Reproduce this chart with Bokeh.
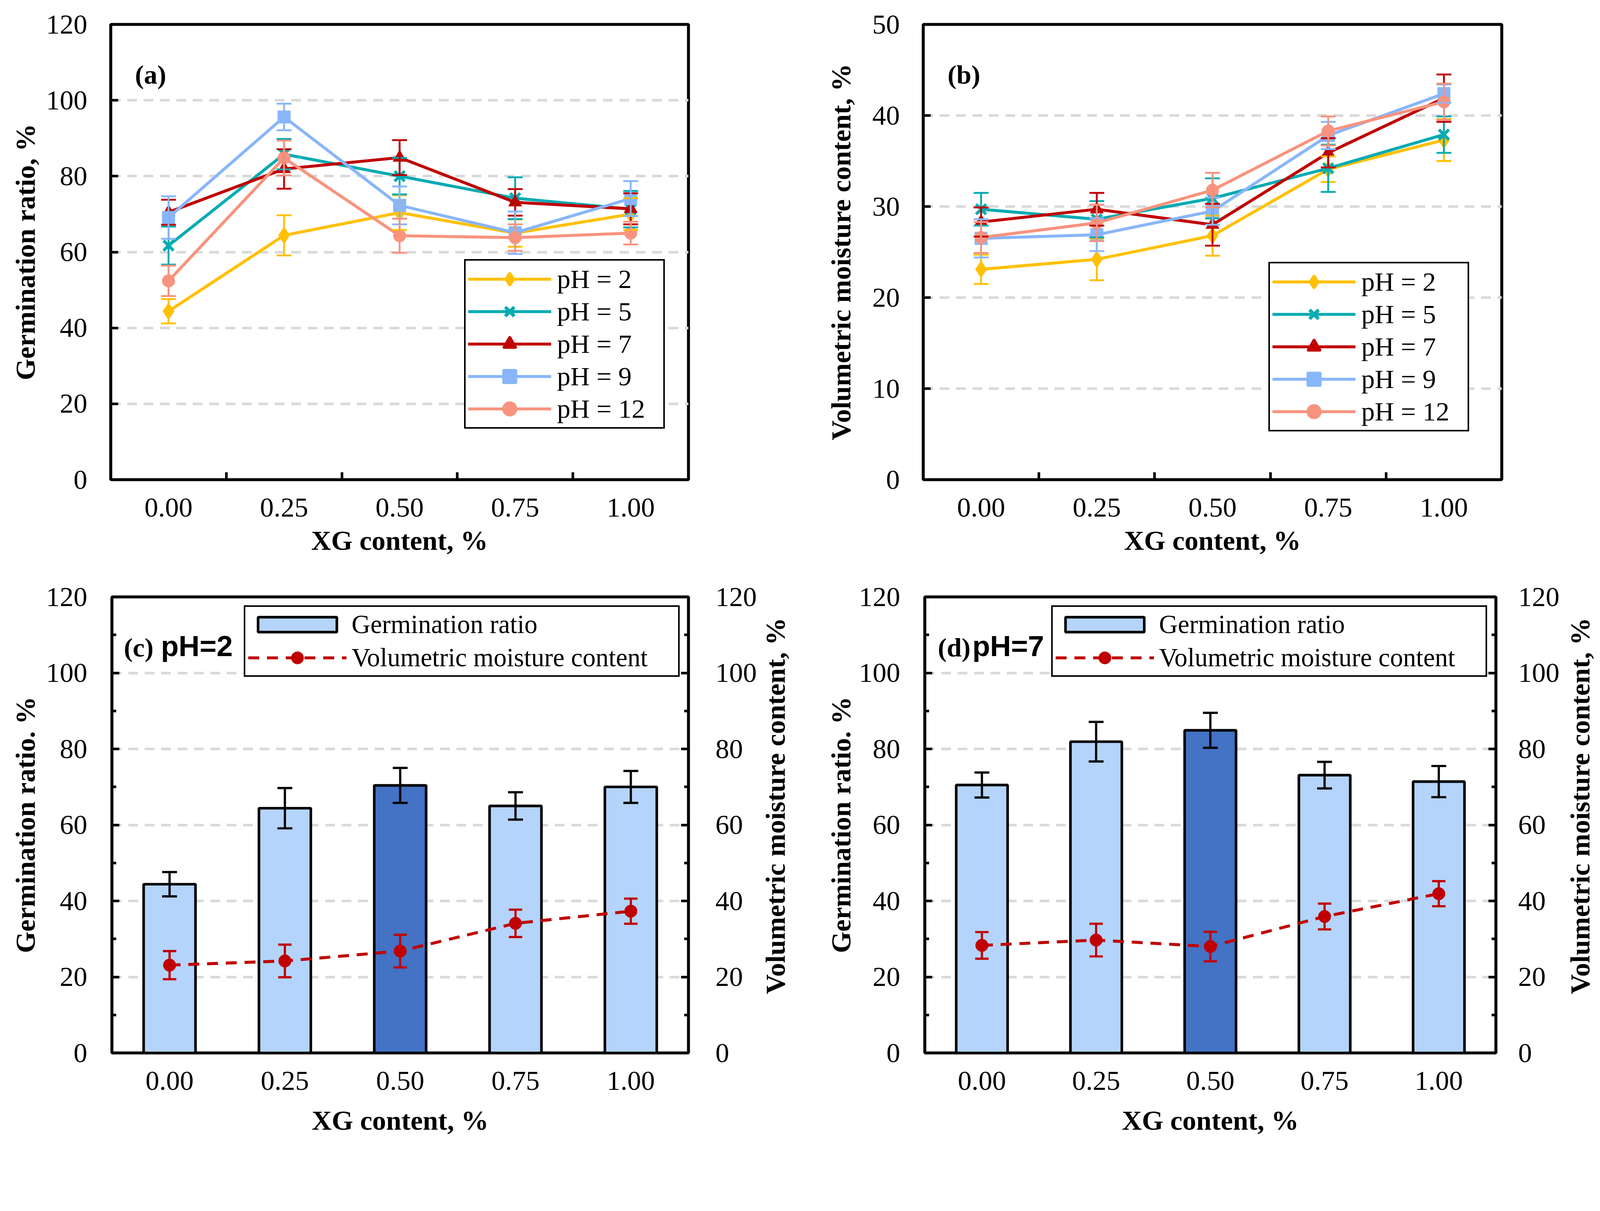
import math
from bokeh.plotting import figure
from bokeh.models import (Range1d, FixedTicker, LinearAxis, Whisker, TeeHead,
                          ColumnDataSource, Label, Legend, LegendItem)
from bokeh.layouts import column, row
from bokeh.embed import file_html
from bokeh.resources import INLINE

# ---------------- data ----------------
xg_labels = ["0.00", "0.25", "0.50", "0.75", "1.00"]
ph_names = ["pH = 2", "pH = 5", "pH = 7", "pH = 9", "pH = 12"]

# germination ratio, % (panel a) and standard deviations
germ_ph2 = [44.4, 64.4, 70.4, 65.0, 70.0]
germ_ph5 = [61.7, 85.8, 80.0, 74.2, 71.3]
germ_ph7 = [70.5, 81.9, 84.9, 73.1, 71.4]
germ_ph9 = [69.1, 95.6, 72.3, 65.1, 74.1]
germ_ph12 = [52.4, 84.8, 64.3, 63.8, 65.0]
germ_err_ph2 = [3.2, 5.3, 4.6, 3.6, 4.2]
germ_err_ph5 = [5.0, 4.0, 4.8, 5.5, 4.8]
germ_err_ph7 = [3.3, 5.2, 4.6, 3.5, 4.1]
germ_err_ph9 = [5.6, 3.5, 5.0, 5.6, 4.6]
germ_err_ph12 = [4.0, 4.6, 4.5, 3.5, 3.0]

# volumetric moisture content, % (panel b) and standard deviations
vmc_ph2 = [23.1, 24.2, 26.8, 34.1, 37.3]
vmc_ph5 = [29.7, 28.6, 30.9, 34.2, 37.9]
vmc_ph7 = [28.3, 29.7, 28.0, 35.9, 41.9]
vmc_ph9 = [26.5, 26.9, 29.5, 37.8, 42.4]
vmc_ph12 = [26.6, 28.2, 31.8, 38.3, 41.5]
vmc_err_ph2 = [1.6, 2.3, 2.2, 1.4, 2.3]
vmc_err_ph5 = [1.8, 2.0, 2.2, 2.6, 2.0]
vmc_err_ph7 = [1.6, 1.8, 2.3, 1.6, 2.6]
vmc_err_ph9 = [2.1, 1.8, 1.5, 1.5, 1.0]
vmc_err_ph12 = [1.7, 2.0, 1.9, 1.6, 2.0]

# error bars of the moisture content shown in panels c and d
vmc_err_ph2_c = [3.7, 4.3, 4.3, 3.6, 3.3]
vmc_err_ph7_d = [3.5, 4.3, 3.9, 3.4, 3.3]

highlight_label = "0.50"

# ---------------- style ----------------
S = 1 / 1.05          # reference pixels -> css pixels
NAN = float("nan")


def px(v):
    return v * S


def ipx(v):
    return int(round(v * S))


def fs(v):
    return "%.1fpx" % (v * S)


SERIF = "Liberation Serif"
SANS = "Liberation Sans"
COLORS = ["#FFC000", "#03ABB2", "#C00000", "#88B6FA", "#F8937E"]
MARKERS = ["diamond", "x", "triangle", "square", "circle"]
MSIZE = [46, 38, 36, 34, 34]
BAR_LIGHT = "#B4D4FB"
BAR_DARK = "#4472C4"
RED = "#C00000"
GRID = "#D9D9D9"
TICK_FS = 74
LABEL_FS = 74

xs = list(range(len(xg_labels)))
overrides = {i: lab for i, lab in enumerate(xg_labels)}


def make_fig(w, h, y_end, left, right, top, bottom):
    p = figure(width=w, height=h, x_range=Range1d(-0.5, len(xs) - 0.5),
               y_range=Range1d(0, y_end), output_backend="svg",
               toolbar_location=None, min_border_left=left,
               min_border_right=right, min_border_top=top,
               min_border_bottom=bottom)
    p.background_fill_color = "white"
    p.border_fill_color = "white"
    p.outline_line_color = "black"
    p.outline_line_width = px(8)
    p.outline_line_alpha = 1.0
    p.xgrid.grid_line_color = None
    p.ygrid.grid_line_color = GRID
    p.ygrid.grid_line_width = px(7)
    p.ygrid.grid_line_dash = "25 17"
    return p


def style_axis(ax, label, lab_standoff, tick_standoff):
    ax.axis_label = label
    ax.axis_label_text_font = SERIF
    ax.axis_label_text_font_size = fs(LABEL_FS)
    ax.axis_label_text_font_style = "bold"
    ax.axis_label_text_color = "black"
    ax.axis_label_standoff = ipx(lab_standoff)
    ax.major_label_text_font = SERIF
    ax.major_label_text_font_size = fs(TICK_FS)
    ax.major_label_text_color = "black"
    ax.major_label_standoff = ipx(tick_standoff)
    ax.axis_line_color = None
    ax.major_tick_in = ipx(20)
    ax.major_tick_out = 0
    ax.major_tick_line_width = px(7)
    ax.major_tick_line_color = "black"
    ax.minor_tick_in = ipx(12)
    ax.minor_tick_out = 0
    ax.minor_tick_line_width = px(7)
    ax.minor_tick_line_color = "black"


def add_err(p, y, err, color, head, width, range_name=None):
    src = ColumnDataSource(dict(x=xs,
                                upper=[a + b for a, b in zip(y, err)],
                                lower=[a - b for a, b in zip(y, err)]))
    wk = Whisker(source=src, base="x", upper="upper", lower="lower",
                 dimension="height", line_color=color, line_width=px(width),
                 level="annotation",
                 upper_head=TeeHead(size=px(head), line_color=color, line_width=px(width)),
                 lower_head=TeeHead(size=px(head), line_color=color, line_width=px(width)))
    if range_name:
        wk.y_range_name = range_name
    p.add_layout(wk)


def style_legend(lg, size, gw, gh, standoff, lw, pad, spacing):
    lg.label_text_font = SERIF
    lg.label_text_font_size = fs(size)
    lg.label_text_color = "black"
    lg.border_line_color = "black"
    lg.border_line_alpha = 1.0
    lg.border_line_width = px(5)
    lg.background_fill_color = "white"
    lg.background_fill_alpha = 1.0
    lg.padding = ipx(pad)
    lg.spacing = ipx(spacing)
    lg.margin = 0
    lg.glyph_width = ipx(gw)
    lg.glyph_height = ipx(gh)
    lg.label_standoff = ipx(standoff)
    lg.label_width = ipx(lw)


def line_panel(p, series, errs, y_end, tag, ylab, ytick_step, legend_loc,
               left_lab_standoff):
    xa = p.xaxis[0]
    xa.ticker = FixedTicker(ticks=xs, minor_ticks=[i + 0.5 for i in xs[:-1]])
    xa.major_label_overrides = overrides
    style_axis(xa, "XG content, %", 20, 50)
    xa.major_tick_line_color = None
    xa.minor_tick_in = ipx(20)
    ya = p.yaxis[0]
    ticks = list(range(0, y_end + 1, ytick_step))
    ya.ticker = FixedTicker(ticks=ticks, minor_ticks=[])
    style_axis(ya, ylab, left_lab_standoff, 63)
    p.ygrid.ticker = FixedTicker(ticks=ticks[1:-1])
    items = []
    for k in range(len(series)):
        add_err(p, series[k], errs[k], COLORS[k], 40, 5)
    for k in range(len(series)):
        lr = p.line(xs, series[k], line_color=COLORS[k], line_width=px(8))
        if MARKERS[k] == "x":
            p.scatter(xs, series[k], marker="x", size=px(MSIZE[k]),
                      line_color=COLORS[k], line_width=px(8))
            proxy = p.scatter(x=[NAN], y=[NAN], marker="x", size=px(MSIZE[k]),
                              line_color=COLORS[k], line_width=px(9))
        else:
            p.scatter(xs, series[k], marker=MARKERS[k], size=px(MSIZE[k]),
                      fill_color=COLORS[k], line_color=COLORS[k], line_width=1)
            # legend-only marker: legend markers are sized from the glyph
            # box, a thicker outline brings them to the reference size
            proxy = p.scatter(x=[NAN], y=[NAN], marker=MARKERS[k],
                              size=px(MSIZE[k]), fill_color=COLORS[k],
                              line_color=COLORS[k], line_width=px(6))
        items.append(LegendItem(label=ph_names[k], renderers=[lr, proxy]))
    lg = Legend(items=items, location=(ipx(legend_loc[0]), ipx(legend_loc[1])))
    style_legend(lg, 72, 224, 86, 16, 279, 6, 1)
    p.add_layout(lg)
    p.add_layout(Label(x=-0.29, y=y_end * 0.89, text=tag, text_font=SERIF,
                       text_font_style="bold", text_font_size=fs(72),
                       text_color="black", text_baseline="alphabetic"))
    return p


def bar_panel(p, germ, germ_err, vmc, vmc_err, tag, tag2, tag_x, tag2_x,
              left_lab_standoff, right_tick_standoff):
    xa = p.xaxis[0]
    xa.ticker = FixedTicker(ticks=xs, minor_ticks=[])
    xa.major_label_overrides = overrides
    style_axis(xa, "XG content, %", 38, 50)
    xa.major_tick_line_color = None
    ticks = list(range(0, 121, 20))
    minors = list(range(10, 120, 20))
    ya = p.yaxis[0]
    ya.ticker = FixedTicker(ticks=ticks, minor_ticks=minors)
    style_axis(ya, "Germination ratio. %", left_lab_standoff, 66)
    p.ygrid.ticker = FixedTicker(ticks=ticks[1:-1])
    p.extra_y_ranges = {"vmc": Range1d(0, 120)}
    ra = LinearAxis(y_range_name="vmc",
                    ticker=FixedTicker(ticks=ticks, minor_ticks=minors))
    style_axis(ra, "", 0, right_tick_standoff)
    ra.axis_label = None
    p.add_layout(ra, "right")

    bar_colors = [BAR_DARK if lab == highlight_label else BAR_LIGHT
                  for lab in xg_labels]
    src = ColumnDataSource(dict(x=xs, top=germ, color=bar_colors))
    br = p.vbar(x="x", top="top", width=0.45, source=src, fill_color="color",
                line_color="black", line_width=px(7))
    add_err(p, germ, germ_err, "black", 40, 6)
    add_err(p, vmc, vmc_err, RED, 36, 6, "vmc")
    lr = p.line(xs, vmc, line_color=RED, line_width=px(8), line_dash="28 20",
                y_range_name="vmc")
    p.scatter(xs, vmc, marker="circle", size=px(34), fill_color=RED,
              line_color=RED, y_range_name="vmc")
    proxy = p.scatter(x=[NAN], y=[NAN], marker="circle", size=px(20),
                      fill_color=RED, line_color=RED, line_width=px(14),
                      y_range_name="vmc")
    lg = Legend(items=[LegendItem(label="Germination ratio", renderers=[br], index=0),
                       LegendItem(label="Volumetric moisture content",
                                  renderers=[lr, proxy])],
                location="top_right")
    style_legend(lg, 70, 265, 50, 14, 870, 7, 9)
    lg.margin = ipx(23)
    p.add_layout(lg)
    p.add_layout(Label(x=tag_x, y=106.7, text=tag, text_font=SERIF,
                       text_font_style="bold", text_font_size=fs(72),
                       text_color="black", text_baseline="alphabetic"))
    p.add_layout(Label(x=tag2_x, y=107.0, text=tag2, text_font=SANS,
                       text_font_style="bold", text_font_size=fs(78),
                       text_color="black", text_baseline="alphabetic"))
    return p


def right_title(w, h, top, bottom, x_off):
    # narrow strip carrying the secondary-axis title of panels c and d,
    # rotated to read bottom-to-top as in the reference
    q = figure(width=w, height=h, x_axis_type=None, y_axis_type=None,
               x_range=Range1d(0, w), y_range=Range1d(0, 120),
               output_backend="svg", toolbar_location=None,
               min_border_left=0, min_border_right=0,
               min_border_top=top, min_border_bottom=bottom)
    q.outline_line_color = None
    q.background_fill_color = "white"
    q.border_fill_color = "white"
    q.grid.grid_line_color = None
    q.add_layout(Label(x=x_off, y=65, text="Volumetric moisture content, %",
                       angle=90, angle_units="deg", text_align="center",
                       text_baseline="middle", text_font=SERIF,
                       text_font_style="bold", text_font_size=fs(LABEL_FS),
                       text_color="black"))
    return q


W, H = 2040, 1460

pa = make_fig(W, H, 120, 283, 278, 62, 233)
line_panel(pa, [germ_ph2, germ_ph5, germ_ph7, germ_ph9, germ_ph12],
           [germ_err_ph2, germ_err_ph5, germ_err_ph7, germ_err_ph9, germ_err_ph12],
           120, "(a)", "Germination ratio, %", 20, (950, 137), 12)

pb = make_fig(W, H, 50, 323, 236, 62, 233)
line_panel(pb, [vmc_ph2, vmc_ph5, vmc_ph7, vmc_ph9, vmc_ph12],
           [vmc_err_ph2, vmc_err_ph5, vmc_err_ph7, vmc_err_ph9, vmc_err_ph12],
           50, "(b)", "Volumetric moisture content, %", 10, (928, 129), 40)

WC_T, WD_T = 100, 93
pc = make_fig(W - WC_T, H, 120, 286, 276 - WC_T, 67, 226)
bar_panel(pc, germ_ph2, germ_err_ph2, vmc_ph2, vmc_err_ph2_c,
          "(c)", "pH=2", -0.397, -0.075, 12, 72)
pc_t = right_title(WC_T, H, 67, 226, 44)

pd = make_fig(W - 85, H, 120, 327, 246 - 85, 67, 226)
bar_panel(pd, germ_ph7, germ_err_ph7, vmc_ph7, vmc_err_ph7_d,
          "(d)", "pH=7", -0.386, -0.084, 4, 60)
pd_t = right_title(WD_T, H, 67, 226, 49)

layout = column(row(pa, pb), row(pc, pc_t, pd, pd_t))
open("out.html", "w").write(file_html(layout, INLINE))
